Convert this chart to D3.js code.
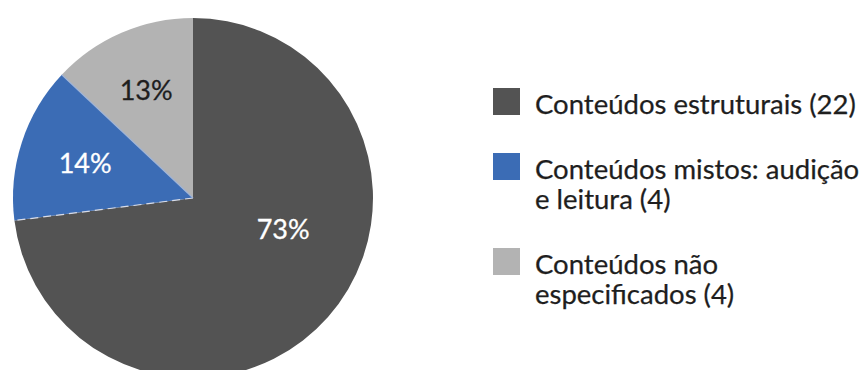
<!DOCTYPE html>
<html>
<head>
<meta charset="utf-8">
<script src="https://cdn.jsdelivr.net/npm/d3@7"></script>
<style>
  html, body { margin: 0; padding: 0; background: #ffffff; }
  svg { display: block; }
  text { font-family: Lato, "Open Sans", sans-serif; }
</style>
</head>
<body>
<svg id="chart" width="868" height="370"></svg>
<script>
// ---- data ----
const categories = ["Conteúdos estruturais", "Conteúdos mistos: audição e leitura", "Conteúdos não especificados"];
const counts = [22, 4, 4];
const percents = [73, 14, 13];
const percentLabels = ["73%", "14%", "13%"];
const legendLines = [
  ["Conteúdos estruturais (22)"],
  ["Conteúdos mistos: audição", "e leitura (4)"],
  ["Conteúdos não", "especificados (4)"]
];
const colors = ["#535353", "#3b6cb5", "#b3b3b3"];
const labelColors = ["#ffffff", "#ffffff", "#1e1e1e"];

// ---- layout ----
const svg = d3.select("#chart");
const cx = 193, cy = 198, R = 180;

const pie = d3.pie().sort(null).value(d => d)(percents);
const arc = d3.arc().innerRadius(0).outerRadius(R);

const g = svg.append("g").attr("transform", `translate(${cx},${cy})`);
g.selectAll("path.slice")
  .data(pie)
  .join("path")
  .attr("class", "slice")
  .attr("d", arc)
  .attr("fill", (d, i) => colors[i]);

// dashed light boundary between dark and blue slices
const bAng = pie[0].endAngle;
g.append("line")
  .attr("x1", 0).attr("y1", 0)
  .attr("x2", R * Math.sin(bAng)).attr("y2", -R * Math.cos(bAng))
  .attr("stroke", "#d8dce8").attr("stroke-width", 1.2)
  .attr("stroke-dasharray", "8,5");
// faint light boundary between blue and gray
const bAng2 = pie[1].endAngle;
g.append("line")
  .attr("x1", 0).attr("y1", 0)
  .attr("x2", R * Math.sin(bAng2)).attr("y2", -R * Math.cos(bAng2))
  .attr("stroke", "#9fb3d6").attr("stroke-width", 1.2);

// labels: positioned at polar points (angle, radius fraction)
const labelPolar = [
  { ang: 109 * Math.PI / 180, rf: 0.53 },
  { ang: null, rf: 0.63 },
  { ang: null, rf: 0.655 }
];
g.selectAll("text.pct")
  .data(pie)
  .join("text")
  .attr("class", "pct")
  .attr("x", (d, i) => {
    const a = labelPolar[i].ang ?? (d.startAngle + d.endAngle) / 2;
    return R * labelPolar[i].rf * Math.sin(a);
  })
  .attr("y", (d, i) => {
    const a = labelPolar[i].ang ?? (d.startAngle + d.endAngle) / 2;
    return -R * labelPolar[i].rf * Math.cos(a);
  })
  .attr("dy", "0.36em")
  .attr("text-anchor", "middle")
  .attr("font-size", 27)
  .attr("fill", (d, i) => labelColors[i])
  .attr("stroke", (d, i) => labelColors[i])
  .attr("stroke-width", 0.3)
  .text((d, i) => percentLabels[i]);

// legend
const legX = 493, sq = 27, lineH = 30, itemGap = 35;
let y = 88;
legendLines.forEach((lines, i) => {
  const lg = svg.append("g").attr("transform", `translate(${legX},${y})`);
  lg.append("rect").attr("width", sq).attr("height", sq).attr("fill", colors[i]);
  lines.forEach((t, j) => {
    lg.append("text")
      .attr("x", 42)
      .attr("y", sq - 1 + j * lineH)
      .attr("font-size", 27.5)
      .attr("fill", "#1e1e1e")
      .attr("stroke", "#1e1e1e")
      .attr("stroke-width", 0.25)
      .text(t);
  });
  y += sq + itemGap + (lines.length - 1) * lineH + 3;
});
</script>
</body>
</html>
